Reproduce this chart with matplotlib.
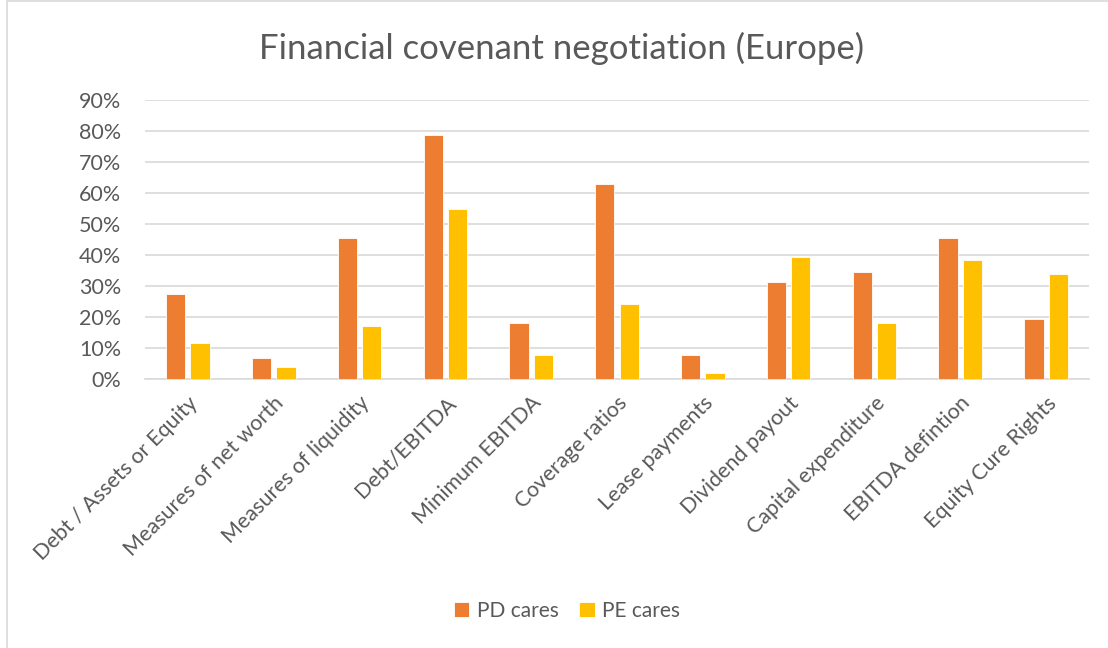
import numpy as np
import matplotlib
matplotlib.use("Agg")
import matplotlib.pyplot as plt
from matplotlib.patches import Rectangle
from matplotlib.ticker import PercentFormatter


# ---------------------------------------------------------
# Data
# ---------------------------------------------------------

CATEGORIES = [
    "Debt / Assets or Equity",
    "Measures of net worth",
    "Measures of liquidity",
    "Debt/EBITDA",
    "Minimum EBITDA",
    "Coverage ratios",
    "Lease payments",
    "Dividend payout",
    "Capital expenditure",
    "EBITDA defintion",
    "Equity Cure Rights",
]

PD_CARES = [0.273, 0.069, 0.455, 0.786, 0.180, 0.628, 0.076, 0.312, 0.346, 0.455, 0.195]
PE_CARES = [0.115, 0.038, 0.172, 0.550, 0.076, 0.242, 0.020, 0.393, 0.180, 0.384, 0.338]

SERIES = {
    "PD cares": "#ED7D31",
    "PE cares": "#FFC000",
}

TEXT_COLOR = "#595959"
GRID_COLOR = "#D9D9D9"

plt.rcParams["font.family"] = ["Lato", "DejaVu Sans"]


# ---------------------------------------------------------
# Plot
# ---------------------------------------------------------

fig = plt.figure(figsize=(11.08, 6.48), dpi=100)
ax = fig.add_axes([145 / 1108, 1 - 379 / 648, (1089 - 145) / 1108, (379 - 100) / 648])

x = np.arange(len(CATEGORIES)) + 0.5
width = 0.225
offset = 0.142

for vals, (label, color), sign in zip([PD_CARES, PE_CARES], SERIES.items(), [-1, 1]):
    ax.bar(x + sign * offset, vals, width=width, color=color, label=label,
           edgecolor="white", linewidth=0.6, zorder=3)

ax.set_xlim(0, len(CATEGORIES))
ax.set_ylim(0, 0.9)
ax.set_yticks(np.arange(0, 0.91, 0.1))
ax.yaxis.set_major_formatter(PercentFormatter(1.0, decimals=0))
ax.grid(axis="y", color=GRID_COLOR, linewidth=1.2, zorder=0)

for side in ["top", "right", "left"]:
    ax.spines[side].set_visible(False)
ax.spines["bottom"].set_color(GRID_COLOR)
ax.spines["bottom"].set_linewidth(1.2)

ax.tick_params(axis="both", length=0, colors=TEXT_COLOR, labelsize=15.5)
ax.tick_params(axis="y", pad=17)
ax.set_xticks(x)
ax.set_xticklabels(CATEGORIES, rotation=45, ha="right", va="top",
                   rotation_mode="anchor")
ax.tick_params(axis="x", pad=10)

fig.text(562 / 1108, 1 - 48 / 648, "Financial covenant negotiation (Europe)",
         ha="center", va="center", fontsize=25, color=TEXT_COLOR)

leg = fig.legend(loc="center", bbox_to_anchor=(567 / 1108, 1 - 611 / 648),
                 ncol=2, frameon=False, fontsize=15, handlelength=0.75,
                 handleheight=0.75, handletextpad=0.35, columnspacing=1.0)
for t in leg.get_texts():
    t.set_color(TEXT_COLOR)

# chart frame
fig.patches.append(Rectangle((7 / 1108, -0.1), 1.2, 1.1 - 1 / 648,
                             transform=fig.transFigure, fill=False,
                             edgecolor="#D9D9D9", linewidth=1.2))

fig.savefig("out.png", dpi=100)
